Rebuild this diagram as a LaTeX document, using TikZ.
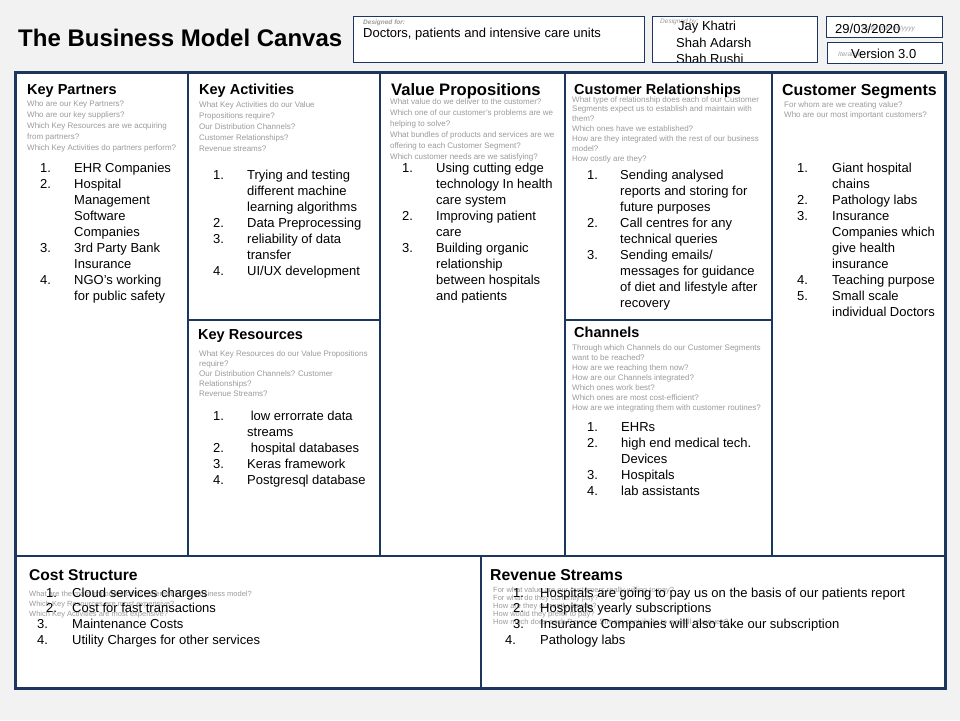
\documentclass[tikz,border=0pt]{standalone}
\usepackage{fontspec}
\setmainfont{Liberation Sans}
\definecolor{bmcnavy}{RGB}{28,54,94}
\definecolor{bmcgray}{RGB}{155,155,155}
\definecolor{bmcback}{RGB}{242,242,242}
\begin{document}
\begin{tikzpicture}[x=1pt,y=-1pt,
    hdrbox/.style={draw=bmcnavy,line width=0.9pt},
    rule/.style={draw=bmcnavy,line width=1.6pt},
    boxtitle/.style={anchor=base west,inner sep=0pt,font=\fontsize{14.5}{17}\selectfont\bfseries},
    bigtitle/.style={boxtitle,font=\fontsize{#1}{18}\selectfont\bfseries},
    qs/.style={anchor=base west,inner sep=0pt,text=bmcgray,font=\fontsize{8}{10}\selectfont},
    entry/.style={anchor=base west,inner sep=0pt,font=\fontsize{13}{16}\selectfont},
    tag/.style={anchor=base west,inner sep=0pt,text=bmcgray,font=\fontsize{6.5}{8}\selectfont\itshape}]
      % Question lines
      \newcommand\qlines[5]{
        \foreach \qq [count=\i from 0] in {#5}
          \node[qs] (#1-\i) at (#2,#3+#4*\i) {\qq};
      }
      % Numbered list
      \newcommand\nlist[6]{
        \foreach \num/\row/\xx in {#5}
          \node[entry] (#1-n\num) at (\xx,#3+#4*\row) {\num.};
        \foreach \qq [count=\i from 0] in {#6}
          \node[entry] (#1-\i) at (#2,#3+#4*\i) {\qq};
      }
      % Page
      \useasboundingbox (0,0) rectangle (960,720);
      \fill[bmcback] (0,0) rectangle (960,720);

      % Header
      \node[anchor=base west,inner sep=0pt,font=\fontsize{24}{28}\selectfont\bfseries]
        (title) at (18,46) {The Business Model Canvas};
      \fill[white] (353,16) rectangle (644,62);
      \node[tag,font=\fontsize{6.5}{8}\selectfont\bfseries\itshape] (forlbl) at (363,24.5) {Designed for:};
      \node[entry] (forwho) at (363,37.5) {Doctors, patients and intensive care units};
      \draw[hdrbox] (353,16) rectangle (644,62);
      \fill[white] (652,16) rectangle (817,62);
      \node[tag] (bylbl) at (660,23.5) {Designed by:};
      \node[entry] (by1) at (678,30) {Jay Khatri};
      \node[entry] (by2) at (676,47) {Shah Adarsh};
      \node[entry] (by3) at (676,63) {Shah Rushi};
      \fill[bmcback] (650,62.5) rectangle (820,70);
      \draw[hdrbox] (652,16) rectangle (817,62);
      \fill[white] (826,16) rectangle (942,37);
      \node[tag,anchor=base east] (datelbl) at (915,30) {Date: dd/mm/yyyy};
      \node[entry] (date) at (835,33) {29/03/2020};
      \draw[hdrbox] (826,16) rectangle (942,37);
      \fill[white] (827,42) rectangle (942,63);
      \node[tag] (itlbl) at (838,56) {Iteration:};
      \node[entry] (version) at (851,58) {Version 3.0};
      \draw[hdrbox] (827,42) rectangle (942,63);

      % Canvas
      \fill[white] (15,72) rectangle (945,688);
      \draw[rule] (188,72) -- (188,556);
      \draw[rule] (380,72) -- (380,556);
      \draw[rule] (565,72) -- (565,556);
      \draw[rule] (772,72) -- (772,556);
      \draw[rule] (188,320) -- (380,320);
      \draw[rule] (565,320) -- (772,320);
      \draw[rule] (15,556) -- (945,556);
      \draw[rule] (481,556) -- (481,688);
      \draw[draw=bmcnavy,line width=3pt] (15,72) rectangle (945,688);

      % Key Partners
      \node[boxtitle] (kp) at (27,94) {Key Partners};
      \qlines{kpq}{27}{106}{11}{Who are our Key Partners?, Who are our key suppliers?,
        Which Key Resources are we acquiring, from partners?,
        Which Key Activities do partners perform?}
      \nlist{kpl}{74}{172}{16}{1/0/40, 2/1/40, 3/5/40, 4/7/40}{EHR Companies, Hospital,
        Management, Software, Companies, 3rd Party Bank, Insurance, NGO’s working,
        for public safety}

      % Key Activities
      \node[boxtitle] (ka) at (199,94) {Key Activities};
      \qlines{kaq}{199}{107}{11}{What Key Activities do our Value, Propositions require?,
        Our Distribution Channels?, Customer Relationships?, Revenue streams?}
      \nlist{kal}{247}{179}{16}{1/0/213, 2/3/213, 3/4/213, 4/6/213}{Trying and testing,
        different machine, learning algorithms, Data Preprocessing, reliability of data,
        transfer, UI/UX development}

      % Key Resources
      \node[boxtitle] (kr) at (198,339) {Key Resources};
      \qlines{krq}{199}{356}{10}{What Key Resources do our Value Propositions, require?,
        Our Distribution Channels? Customer, Relationships?, Revenue Streams?}
      \nlist{krl}{247}{420}{16}{1/0/213, 2/2/213, 3/3/213, 4/4/213}{\ low errorrate data,
        streams, \ hospital databases, Keras framework, Postgresql database}

      % Value Propositions
      \node[bigtitle=16.6] (vp) at (391,95) {Value Propositions};
      \qlines{vpq}{390}{104}{11}{What value do we deliver to the customer?,
        Which one of our customer’s problems are we, helping to solve?,
        What bundles of products and services are we, offering to each Customer Segment?,
        Which customer needs are we satisfying?}
      \nlist{vpl}{436}{172}{16}{1/0/402, 2/3/402, 3/5/402}{Using cutting edge,
        technology In health, care system, Improving patient, care, Building organic,
        relationship, between hospitals, and patients}

      % Customer Relationships
      \qlines{crq}{572}{102}{9.9}{What type of relationship does each of our Customer,
        Segments expect us to establish and maintain with, them?,
        Which ones have we established?,
        How are they integrated with the rest of our business, model?,
        How costly are they?}
      \node[boxtitle] (cr) at (574,94) {Customer Relationships};
      \nlist{crl}{620}{179}{16}{1/0/587, 2/3/587, 3/5/587}{Sending analysed,
        reports and storing for, future purposes, Call centres for any, technical queries,
        Sending emails/, messages for guidance, of diet and lifestyle after, recovery}

      % Channels
      \node[boxtitle] (ch) at (574,337) {Channels};
      \qlines{chq}{572}{350}{10}{Through which Channels do our Customer Segments,
        want to be reached?, How are we reaching them now?,
        How are our Channels integrated?, Which ones work best?,
        Which ones are most cost-efficient?,
        How are we integrating them with customer routines?}
      \nlist{chl}{621}{431}{16}{1/0/587, 2/1/587, 3/3/587, 4/4/587}{EHRs,
        high end medical tech., Devices, Hospitals, lab assistants}

      % Customer Segments
      \node[bigtitle=15.9] (cs) at (782,95) {Customer Segments};
      \qlines{csq}{784}{107}{10}{For whom are we creating value?,
        Who are our most important customers?}
      \nlist{csl}{832}{172}{16}{1/0/797, 2/2/797, 3/3/797, 4/7/797, 5/8/797}{Giant hospital,
        chains, Pathology labs, Insurance, Companies which, give health, insurance,
        Teaching purpose, Small scale, individual Doctors}

      % Cost Structure and Revenue Streams
      \node[bigtitle=15.6] (cost) at (29,580.5) {Cost Structure};
      \node[bigtitle=15.8] (rev) at (490,580.5) {Revenue Streams};
      \begin{scope}[qs/.append style={font=\fontsize{7.5}{9}\selectfont}]
        \qlines{costq}{29}{596}{10}{What are the most important costs inherent in our business model?,
          Which Key Resources are most expensive?, Which Key Activities are most expensive?}
        \qlines{revq}{493}{592}{8}{For what value are our customers really willing to pay?,
          For what do they currently pay?, How are they currently paying?,
          How would they prefer to pay?,
          How much does each Revenue Stream contribute to overall revenues?}
      \end{scope}
      \nlist{costl}{72}{597}{15.7}{1/0/46, 2/1/46, 3/2/37, 4/3/37}{Cloud services charges,
        Cost for fast transactions, Maintenance Costs, Utility Charges for other services}
      \nlist{revl}{540}{597}{15.7}{1/0/513, 2/1/513, 3/2/513, 4/3/505}{Hospitals are going to pay us on the basis of our patients report,
        Hospitals yearly subscriptions, Insurance Companies will also take our subscription,
        Pathology labs}
\end{tikzpicture}
\end{document}
